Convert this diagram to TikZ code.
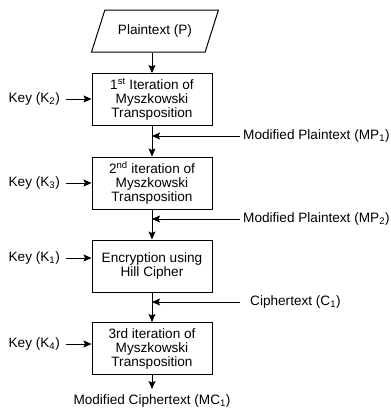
\documentclass[tikz,border=0pt]{standalone}
\usepackage{fontspec}
\setmainfont{Liberation Sans}
\usetikzlibrary{arrows.meta,shapes.geometric}

\tikzset{
  step_box/.style={draw, line width=1pt, minimum width=120pt, minimum height=52pt, align=center, inner sep=2pt},
  in_box/.style={draw, line width=1pt, trapezium, trapezium left angle=61, trapezium right angle=119, trapezium stretches=true, minimum width=127pt, minimum height=42pt},
  lbl/.style={inner sep=3pt},
  arr/.style={line width=1pt, -{Stealth[length=8pt,width=7pt,inset=1.5pt]}}
}

\begin{document}
\begin{tikzpicture}[x=1pt,y=-1pt,font=\fontsize{13.6}{14}\selectfont]
\useasboundingbox (0,0) rectangle (391,410);

\node[in_box] (P_1) at (155,31) {Plaintext (P)};

\node[step_box] (Blk_1) at (152,99.5) {1\textsuperscript{st} Iteration of\\Myszkowski\\Transposition};
\node[step_box] (Blk_2) at (152,183) {2\textsuperscript{nd} iteration of\\Myszkowski\\Transposition};
\node[step_box] (Blk_3) at (152,266) {Encryption using\\Hill Cipher};
\node[step_box] (Blk_4) at (152,348.5) {3rd iteration of\\Myszkowski\\Transposition};

\node[lbl,anchor=east] (Key_2) at (63,99) {Key (K\textsubscript{2})};
\node[lbl,anchor=east] (Key_3) at (63,183) {Key (K\textsubscript{3})};
\node[lbl,anchor=east] (Key_1) at (63,258) {Key (K\textsubscript{1})};
\node[lbl,anchor=east] (Key_4) at (63,344) {Key (K\textsubscript{4})};

\node[lbl,anchor=west] (MP_1) at (240,136) {Modified Plaintext (MP\textsubscript{1})};
\node[lbl,anchor=west] (MP_2) at (240,219) {Modified Plaintext (MP\textsubscript{2})};
\node[lbl,anchor=west] (C_1) at (247,302) {Ciphertext (C\textsubscript{1})};
\node[lbl,anchor=north] (MC_1) at (152,391) {Modified Ciphertext (MC\textsubscript{1})};

\draw[arr] (Blk_1.north |- P_1.south) -- (Blk_1.north);
\draw[arr] (Blk_1.south) -- (Blk_2.north);
\draw[arr] (Blk_2.south) -- (Blk_3.north);
\draw[arr] (Blk_3.south) -- (Blk_4.north);
\draw[arr, shorten >=2pt] (Blk_4.south) -- (MC_1.north);

\draw[arr, shorten <=3pt] (Key_2.east) -- (Key_2.east -| Blk_1.west);
\draw[arr, shorten <=3pt] (Key_3.east) -- (Key_3.east -| Blk_2.west);
\draw[arr, shorten <=3pt] (Key_1.east) -- (Key_1.east -| Blk_3.west);
\draw[arr, shorten <=3pt] (Key_4.east) -- (Key_4.east -| Blk_4.west);

\draw[arr] (MP_1.west) -- (MP_1.west -| Blk_1.south);
\draw[arr] (MP_2.west) -- (MP_2.west -| Blk_2.south);
\draw[arr, shorten <=7pt] (C_1.west) -- (C_1.west -| Blk_3.south);

\end{tikzpicture}
\end{document}
